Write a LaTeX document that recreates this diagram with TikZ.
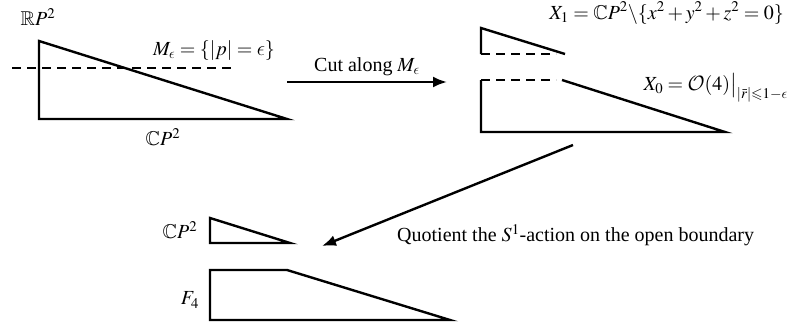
\documentclass[tikz,border=0pt]{standalone}
\usepackage{amsmath,amssymb}
\usepackage{mathptmx}
\usepackage{fontspec}
\setmainfont{Liberation Serif}
\DeclareSymbolFont{cmlet}{OML}{cmm}{m}{it}
\DeclareMathSymbol{\epsilon}{\mathord}{cmlet}{"0F}
\DeclareMathAlphabet{\mathcal}{OMS}{cmsy}{m}{n}
\usetikzlibrary{arrows.meta}
\tikzset{
  edge/.style={line width=2.4pt, line join=miter},
  cutline/.style={line width=2.4pt, dash pattern=on 9pt off 6pt},
  mapsto/.style={line width=2.4pt, -{Latex[length=14pt,width=11pt]}},
  lbl/.style={inner sep=1pt, font=\fontsize{20}{24}\selectfont}
}
\begin{document}
\begin{tikzpicture}[x=1pt, y=-1pt]
  \useasboundingbox (0,0) rectangle (791,329);

  % 元の三角形と切断線 M_epsilon
  \draw[edge] (39,41) -- (39,119) -- (287,119) -- cycle;
  \draw[cutline] (12,68) -- (235,68);
  \node[lbl] (rp) at (38,17) {$\mathbb{R}P^2$};
  \node[lbl] (meps) at (214,51) {$M_\epsilon=\{|p|=\epsilon\}$};
  \node[lbl] (cpbase) at (163,137) {$\mathbb{C}P^2$};

  % 切断の矢印
  \coordinate (cutA) at (287,82);
  \coordinate (cutB) at (447,82);
  \draw[mapsto] (cutA) -- (cutB) node[lbl, midway, above=4pt] (cut) {Cut along $M_\epsilon$};

  % 上側のかけら X_1
  \draw[edge] (565,54) -- (481,28) -- (481,54);
  \draw[cutline] (481,54) -- (556,54);
  \node[lbl, anchor=east] (xone) at (785,13) {$X_1=\mathbb{C}P^2\backslash\{x^2+y^2+z^2=0\}$};

  % 下側のかけら X_0
  \draw[cutline] (481,80) -- (556,80);
  \draw[edge] (562,80) -- (725,132) -- (481,132) -- (481,80);
  \node[lbl, anchor=east] (xzero) at (789,88) {$X_0=\mathcal{O}(4)\big|_{|\bar r|\leqslant 1-\epsilon}$};

  % 商をとる矢印
  \coordinate (quoA) at (573,145);
  \coordinate (quoB) at (322,246);
  \draw[mapsto] (quoA) -- (quoB);
  \node[lbl, anchor=west] (quo) at (396,235) {Quotient the $S^1$-action on the open boundary};

  % 商の結果: CP^2 と F_4
  \draw[edge] (210,218) -- (210,243) -- (290,243) -- cycle;
  \node[lbl] (cpq) at (180,230) {$\mathbb{C}P^2$};
  \draw[edge] (210,270) -- (287,270) -- (450,320) -- (210,320) -- cycle;
  \node[lbl] (ffour) at (190,300) {$F_4$};
\end{tikzpicture}
\end{document}
